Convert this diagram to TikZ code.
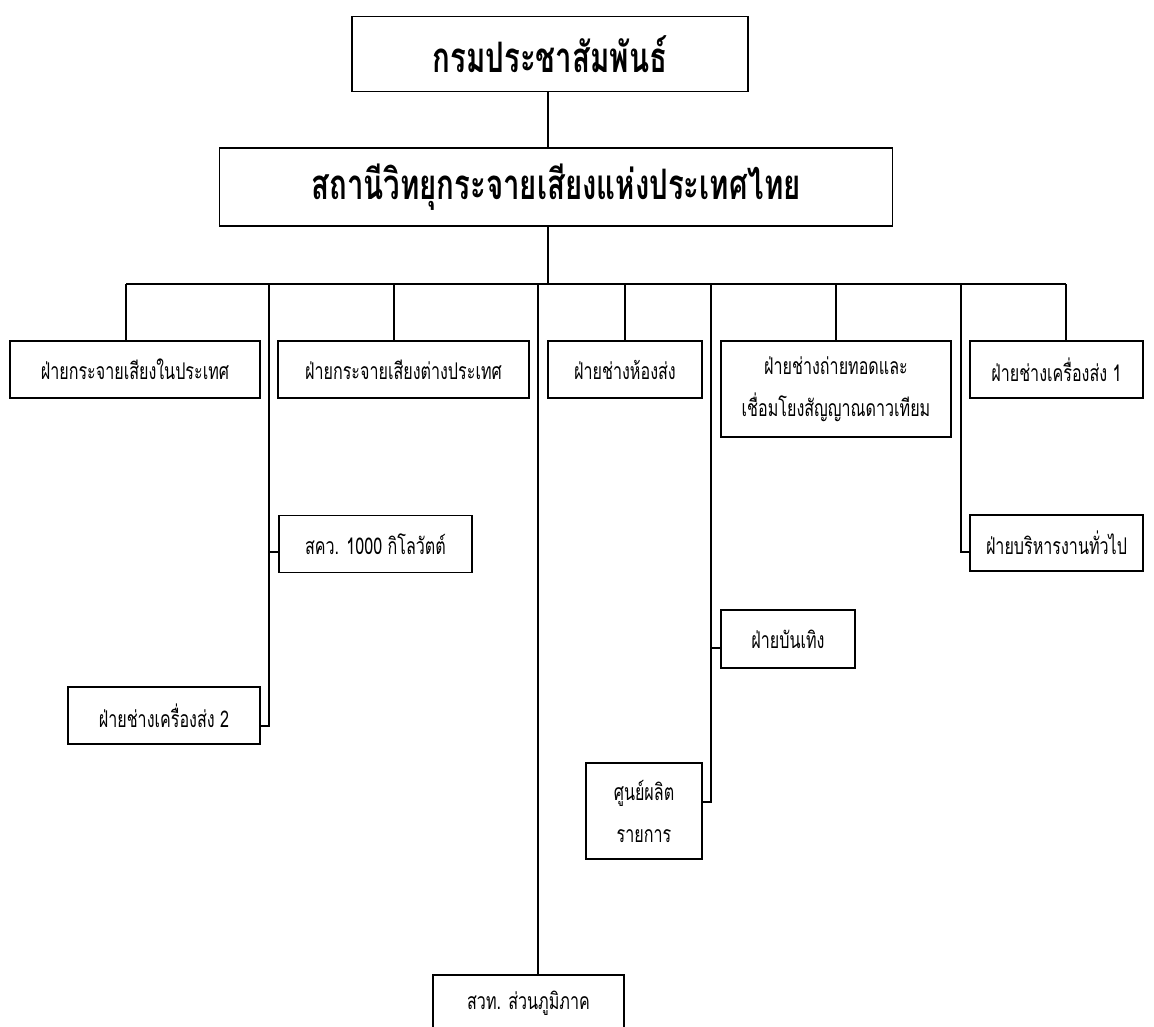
\documentclass[tikz,border=0pt]{standalone}
\usepackage{fontspec}
\newfontfamily\thaifont[Script=Thai,FakeStretch=0.7]{Loma}
\begin{document}
\begin{tikzpicture}[x=1pt,y=-1pt,
  unit/.style={draw,line width=1.5pt,inner sep=0pt,minimum height=57pt,align=center,
    font=\thaifont\fontsize{23}{42}\selectfont},
  head/.style={unit,font=\thaifont\bfseries\fontsize{42}{46}\selectfont},
  link/.style={line width=1.2pt}]
\def\busy{284}

\clip (0,0) rectangle (1154,1027);

% top of the chart
\node[head,minimum width=396pt,minimum height=75pt] (dept) at (550,54) {กรมประชาสัมพันธ์};
\node[head,minimum width=673pt,minimum height=78pt] (radio) at (556,187) {สถานีวิทยุกระจายเสียงแห่งประเทศไทย};

% first row
\node[unit,minimum width=250pt] (home) at (135,369.5) {ฝ่ายกระจายเสียงในประเทศ};
\node[unit,minimum width=251pt] (abroad) at (403.5,369.5) {ฝ่ายกระจายเสียงต่างประเทศ};
\node[unit,minimum width=154pt] (studio) at (625,369.5) {ฝ่ายช่างห้องส่ง};
\node[unit,minimum width=230pt,minimum height=96pt] (relay) at (836,389) {ฝ่ายช่างถ่ายทอดและ\\เชื่อมโยงสัญญาณดาวเทียม};
\node[unit,minimum width=173pt] (trans1) at (1056.5,369.5) {ฝ่ายช่างเครื่องส่ง 1};

% lower boxes
\node[unit,minimum width=193pt] (kw) at (375.5,544) {สคว. 1000 กิโลวัตต์};
\node[unit,minimum width=192pt] (trans2) at (164,715.5) {ฝ่ายช่างเครื่องส่ง 2};
\node[unit,minimum width=173pt,minimum height=56pt] (admin) at (1056.5,543) {ฝ่ายบริหารงานทั่วไป};
\node[unit,minimum width=134pt,minimum height=58pt] (ent) at (788,639) {ฝ่ายบันเทิง};
\node[unit,minimum width=116pt,minimum height=96pt] (prod) at (644,811) {ศูนย์ผลิต\\รายการ};
\node[unit,minimum width=191pt] (region) at (528.5,1003.5) {สวท. ส่วนภูมิภาค};

% bus and drops
\coordinate (trunk) at (548,\busy);
\coordinate (b1) at (126,\busy);
\coordinate (b2) at (394,\busy);
\coordinate (b3) at (625,\busy);
\coordinate (b4) at (836,\busy);
\coordinate (b5) at (1066,\busy);
\coordinate (s1) at (269,\busy);
\coordinate (s2) at (538,\busy);
\coordinate (s3) at (711,\busy);
\coordinate (s4) at (961,\busy);

\draw[link] (dept.south -| trunk) -- (radio.north -| trunk);
\draw[link] (radio.south -| trunk) -- (trunk);
\draw[link] (b1) -- (b5);
\foreach \b/\n in {b1/home,b2/abroad,b3/studio,b4/relay,b5/trans1}
  \draw[link] (\b) -- (\b |- \n.north);

% side branches
\coordinate (j1) at (269,552);
\coordinate (j2) at (269,726);
\coordinate (j3) at (961,552);
\coordinate (j4) at (711,648);
\coordinate (j5) at (711,802);
\draw[link] (s1) -- (j2) -- (j2 -| trans2.east);
\draw[link] (j1) -- (j1 -| kw.west);
\draw[link] (s4) -- (j3) -- (j3 -| admin.west);
\draw[link] (s3) -- (j5) -- (j5 -| prod.east);
\draw[link] (j4) -- (j4 -| ent.west);
\draw[link] (s2) -- (s2 |- region.north);

\end{tikzpicture}
\end{document}
